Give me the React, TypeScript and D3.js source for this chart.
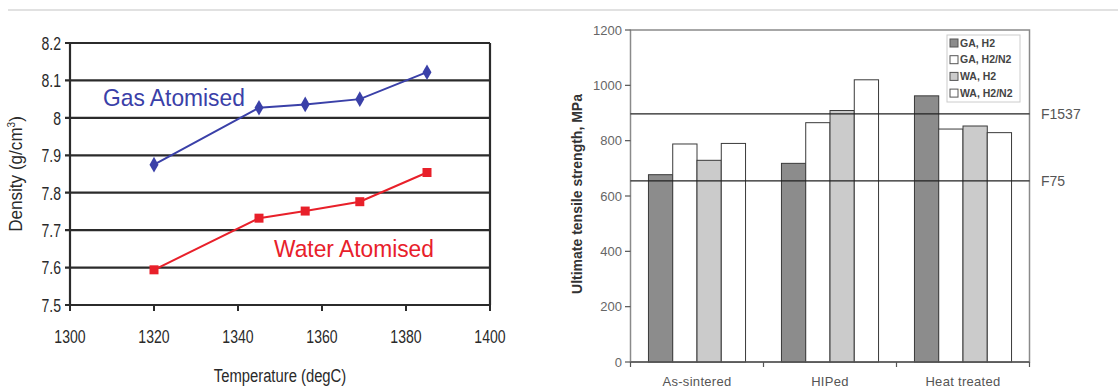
import React from "react";
import * as d3 from "d3";

// left panel: density vs sintering temperature
const temps = [1320, 1345, 1356, 1369, 1385];
const gasDensity = [7.875, 8.027, 8.036, 8.05, 8.122];
const waterDensity = [7.594, 7.732, 7.751, 7.776, 7.854];
const densityTicks = [7.5, 7.6, 7.7, 7.8, 7.9, 8, 8.1, 8.2];
const tempTicks = [1300, 1320, 1340, 1360, 1380, 1400];

// right panel: UTS by condition
const conditions = ["As-sintered", "HIPed", "Heat treated"];
const seriesNames = ["GA, H2", "GA, H2/N2", "WA, H2", "WA, H2/N2"];
const gaH2 = [677, 718, 962];
const gaH2N2 = [788, 865, 842];
const waH2 = [729, 909, 853];
const waH2N2 = [790, 1020, 829];
const utsTicks = [0, 200, 400, 600, 800, 1000, 1200];
const refLines = [
  { name: "F1537", value: 897 },
  { name: "F75", value: 655 },
];

const seriesFill = ["#8c8c8c", "#ffffff", "#cbcbcb", "#ffffff"];

const sans = "'Liberation Sans', Arial, sans-serif";

const LeftChart = () => {
  const x = d3.scaleLinear().domain([1300, 1400]).range([70, 490]);
  const y = d3.scaleLinear().domain([7.5, 8.2]).range([305, 43]);

  const line = d3
    .line<number>()
    .x((d, i) => x(temps[i]))
    .y((d) => y(d));

  return (
    <g>
      {densityTicks.map((t) => (
        <g key={t}>
          <line x1={65} x2={490} y1={y(t)} y2={y(t)} stroke="#2b2b2b" strokeWidth={2.2} />
          <text
            transform={`translate(61,${y(t)}) scale(0.74,1)`}
            dy="0.36em"
            textAnchor="end"
            fontFamily={sans}
            fontSize={19}
            fill="#2a2a2a"
          >
            {t}
          </text>
        </g>
      ))}
      <line x1={x(1300)} x2={x(1300)} y1={y(8.2)} y2={y(7.5)} stroke="#2b2b2b" strokeWidth={2.2} />
      <line x1={x(1400)} x2={x(1400)} y1={y(8.2)} y2={y(7.5)} stroke="#2b2b2b" strokeWidth={2.2} />
      {tempTicks.map((t) => (
        <g key={t}>
          <line x1={x(t)} x2={x(t)} y1={305} y2={311} stroke="#2b2b2b" strokeWidth={2} />
          <text
            transform={`translate(${x(t)},343) scale(0.74,1)`}
            textAnchor="middle"
            fontFamily={sans}
            fontSize={19}
            fill="#2a2a2a"
          >
            {t}
          </text>
        </g>
      ))}
      <text
        transform="translate(280,382) scale(0.78,1)"
        textAnchor="middle"
        fontFamily={sans}
        fontSize={19}
        fill="#2a2a2a"
      >
        Temperature (degC)
      </text>
      <text
        transform="translate(22,174) rotate(-90) scale(0.9,1)"
        textAnchor="middle"
        fontFamily={sans}
        fontSize={19}
        fill="#2a2a2a"
      >
        Density (g/cm<tspan dy="-7" fontSize={11}>3</tspan>
        <tspan dy="7">)</tspan>
      </text>

      <path d={line(gasDensity) || ""} fill="none" stroke="#3a40a8" strokeWidth={2} />
      {gasDensity.map((v, i) => (
        <path
          key={i}
          d={d3.symbol(d3.symbolDiamond, 70)() || ""}
          transform={`translate(${x(temps[i])},${y(v)})`}
          fill="#3a40a8"
        />
      ))}
      <path d={line(waterDensity) || ""} fill="none" stroke="#e8202a" strokeWidth={2} />
      {waterDensity.map((v, i) => (
        <rect
          key={i}
          x={x(temps[i]) - 4.5}
          y={y(v) - 4.5}
          width={9}
          height={9}
          fill="#e8202a"
        />
      ))}
      <text
        transform="translate(103,106) scale(0.95,1)"
        fontFamily={sans}
        fontSize={24}
        fill="#3a40a8"
      >
        Gas Atomised
      </text>
      <text
        transform="translate(274,257) scale(0.95,1)"
        fontFamily={sans}
        fontSize={24}
        fill="#e8202a"
      >
        Water Atomised
      </text>
    </g>
  );
};

const RightChart = () => {
  const x0 = d3.scaleBand().domain(conditions).range([630.5, 1029.5]);
  const x1 = d3
    .scaleBand()
    .domain(seriesNames)
    .range([0, x0.bandwidth()])
    .paddingOuter(0.74);
  const y = d3.scaleLinear().domain([0, 1200]).range([362, 30]);
  const values = [gaH2, gaH2N2, waH2, waH2N2];

  return (
    <g>
      <rect x={630.5} y={30} width={399} height={332} fill="none" stroke="#8a8a8a" strokeWidth={1.5} />
      {utsTicks.map((t) => (
        <g key={t}>
          <line x1={625} x2={630.5} y1={y(t)} y2={y(t)} stroke="#555" strokeWidth={1.2} />
          <text
            x={622}
            y={y(t)}
            dy="0.35em"
            textAnchor="end"
            fontFamily={sans}
            fontSize={13}
            fill="#666"
          >
            {t}
          </text>
        </g>
      ))}
      {conditions.map((c, gi) => (
        <g key={c} transform={`translate(${x0(c)},0)`}>
          {seriesNames.map((s, si) => (
            <rect
              key={s}
              x={x1(s)}
              y={y(values[si][gi])}
              width={x1.bandwidth()}
              height={y(0) - y(values[si][gi])}
              fill={seriesFill[si]}
              stroke="#3a3a3a"
              strokeWidth={1}
            />
          ))}
          <text
            x={x0.bandwidth() / 2}
            y={386}
            textAnchor="middle"
            fontFamily={sans}
            fontSize={13}
            letterSpacing={0.3}
            fill="#555"
          >
            {c}
          </text>
        </g>
      ))}
      <line x1={630.5} x2={1029.5} y1={362} y2={362} stroke="#555" strokeWidth={1.5} />
      {[...conditions.map((c) => x0(c) as number), 1029.5].map((p, i) => (
        <line key={i} x1={p} x2={p} y1={362} y2={367} stroke="#555" strokeWidth={1.2} />
      ))}
      {refLines.map((r) => (
        <g key={r.name}>
          <line x1={630.5} x2={1029.5} y1={y(r.value)} y2={y(r.value)} stroke="#222" strokeWidth={1.3} />
          <text
            x={1041}
            y={y(r.value)}
            dy="0.35em"
            fontFamily={sans}
            fontSize={14}
            fill="#555"
          >
            {r.name}
          </text>
        </g>
      ))}
      <text
        transform="translate(582,194) rotate(-90)"
        textAnchor="middle"
        fontFamily={sans}
        fontSize={14}
        fontWeight="bold"
        fill="#333"
      >
        Ultimate tensile strength, MPa
      </text>
      <rect x={947} y={35} width={73} height={67} fill="#fff" stroke="#ccc" strokeWidth={1} />
      {seriesNames.map((s, i) => (
        <g key={s} transform={`translate(950,${43 + i * 16.7})`}>
          <rect x={0} y={-4} width={8} height={8} fill={seriesFill[i]} stroke="#555" strokeWidth={1} />
          <text x={10} y={0} dy="0.35em" fontFamily={sans} fontSize={10.5} fontWeight="bold" fill="#444">
            {s}
          </text>
        </g>
      ))}
    </g>
  );
};

export default function App() {
  return (
    <svg
      width={1118}
      height={388}
      style={{ position: "absolute", left: 0, top: 0, display: "block", background: "#fff" }}
    >
      <line x1={8} x2={1118} y1={10} y2={10} stroke="#c4c4c4" strokeWidth={1.2} />
      <LeftChart />
      <RightChart />
    </svg>
  );
}
